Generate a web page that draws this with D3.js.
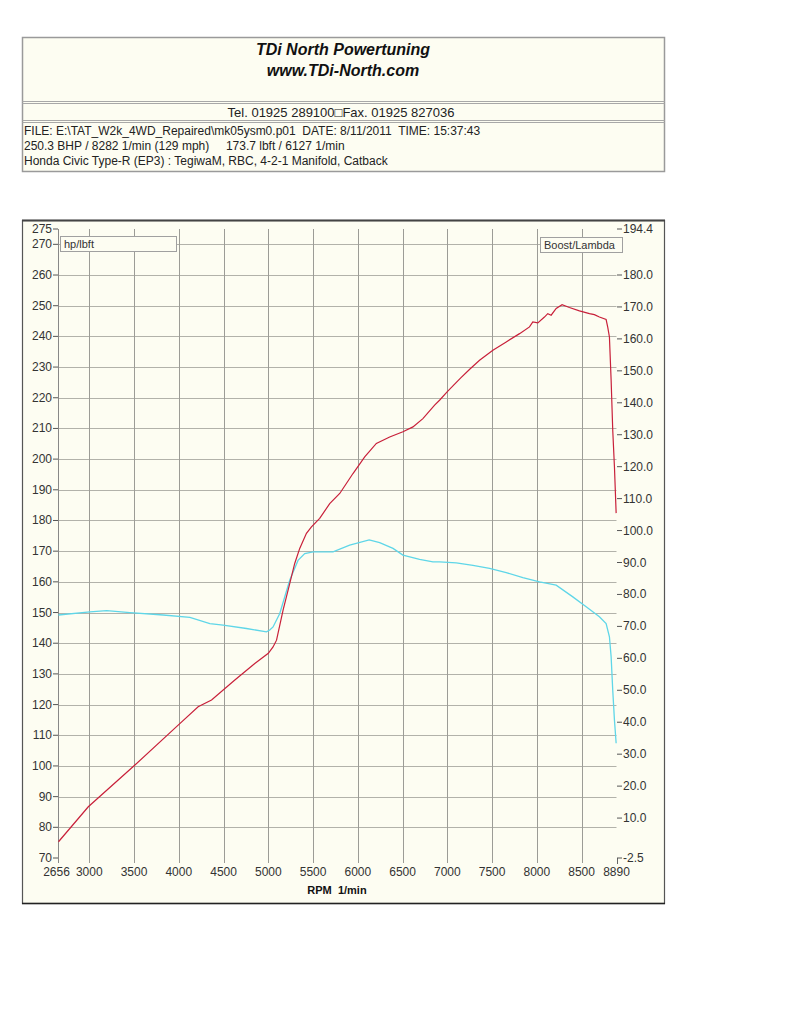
<!DOCTYPE html>
<html><head><meta charset="utf-8">
<script src="https://cdn.jsdelivr.net/npm/d3@7"></script>
<style>
html,body{margin:0;padding:0;background:#fff;}
svg{display:block;}
text{font-family:"Liberation Sans",Arial,sans-serif;}
</style></head>
<body>
<script>
// ---------- data ----------
const xTicks = [2656, 3000, 3500, 4000, 4500, 5000, 5500, 6000, 6500, 7000, 7500, 8000, 8500, 8890];
const leftTicks = [275, 270, 260, 250, 240, 230, 220, 210, 200, 190, 180, 170, 160, 150, 140, 130, 120, 110, 100, 90, 80, 70];
const leftGrid = [270, 260, 250, 240, 230, 220, 210, 200, 190, 180, 170, 160, 150, 140, 130, 120, 110, 100, 90, 80];
const rightTicks = [194.4, 180, 170, 160, 150, 140, 130, 120, 110, 100, 90, 80, 70, 60, 50, 40, 30, 20, 10, -2.5];
const rightLabels = ["194.4", "180.0", "170.0", "160.0", "150.0", "140.0", "130.0", "120.0", "110.0", "100.0", "90.0", "80.0", "70.0", "60.0", "50.0", "40.0", "30.0", "20.0", "10.0", "-2.5"];

const powerRpm = [2656, 2989, 3510, 3993, 4216, 4366, 4626, 4849, 5000, 5053, 5092, 5165, 5240, 5295, 5351, 5426, 5482, 5574, 5686, 5798, 5946, 6077, 6207, 6356, 6504, 6616, 6727, 6858, 6913, 7000, 7150, 7250, 7360, 7509, 7658, 7807, 7918, 7955, 8011, 8085, 8122, 8160, 8216, 8282, 8364, 8476, 8588, 8643, 8699, 8774, 8792, 8811, 8830, 8848, 8867, 8886];
const powerHp  = [75.3, 86.7, 100.3, 113.3, 119.3, 121.5, 128.0, 133.4, 136.7, 138.8, 141.0, 150.8, 159.5, 166.0, 170.9, 175.8, 177.9, 180.7, 185.5, 188.8, 195.3, 200.7, 205.1, 207.2, 208.9, 210.5, 213.2, 217.6, 219.2, 222.0, 226.5, 229.3, 232.2, 235.5, 238.2, 240.9, 243.1, 244.7, 244.4, 246.3, 247.4, 246.9, 249.1, 250.3, 249.4, 248.3, 247.4, 247.1, 246.3, 245.5, 243.0, 239.8, 225.7, 209.4, 197.5, 182.4];

const torqueRpm  = [2656, 3007, 3194, 3454, 3826, 4124, 4347, 4495, 4756, 4979, 5016, 5053, 5128, 5240, 5332, 5407, 5500, 5723, 5909, 6127, 6244, 6393, 6504, 6690, 6839, 6913, 7100, 7286, 7472, 7658, 7844, 8030, 8216, 8402, 8551, 8699, 8774, 8811, 8830, 8848, 8867, 8886];
const torqueLbft = [149.2, 150.2, 150.6, 150.0, 149.2, 148.4, 146.4, 145.9, 144.8, 143.7, 144.3, 145.3, 149.7, 160.6, 167.0, 169.2, 169.8, 169.8, 172.0, 173.7, 172.8, 170.9, 168.7, 167.3, 166.5, 166.5, 166.2, 165.4, 164.4, 163.0, 161.4, 160.0, 158.9, 155.1, 151.9, 148.6, 146.4, 142.1, 135.6, 124.7, 115.0, 107.4];

const headerTitle = ["TDi North Powertuning", "www.TDi-North.com"];
const telLine = "Tel. 01925 289100\u25A1Fax. 01925 827036";
const infoLines = [
  "FILE: E:\\TAT_W2k_4WD_Repaired\\mk05ysm0.p01  DATE: 8/11/2011  TIME: 15:37:43",
  "250.3 BHP / 8282 1/min (129 mph)     173.7 lbft / 6127 1/min",
  "Honda Civic Type-R (EP3) : TegiwaM, RBC, 4-2-1 Manifold, Catback"
];

// ---------- drawing ----------
const W = 791, H = 1024;
const svg = d3.select("body").append("svg").attr("width", W).attr("height", H);
svg.append("rect").attr("width", W).attr("height", H).attr("fill", "#ffffff");

const cream = "#fdfdf2";
// header box
const hb = svg.append("g");
hb.append("rect").attr("x", 22.5).attr("y", 37.5).attr("width", 642).attr("height", 134)
  .attr("fill", cream).attr("stroke", "#9a9a9a").attr("stroke-width", 1.5);
[101.5, 103.5, 120.5, 122.5].forEach(y => {
  hb.append("line").attr("x1", 22.5).attr("x2", 664.5).attr("y1", y).attr("y2", y)
    .attr("stroke", "#a8a8a8").attr("stroke-width", 1);
});
hb.selectAll("text.title").data(headerTitle).join("text")
  .attr("x", 343).attr("y", (d, i) => 55 + i * 21)
  .attr("text-anchor", "middle").attr("font-size", 16).attr("font-weight", "bold")
  .attr("font-style", "italic").attr("fill", "#111").text(d => d);
hb.append("text").attr("x", 341).attr("y", 117).attr("text-anchor", "middle")
  .attr("font-size", 13).attr("fill", "#222").text(telLine);
hb.selectAll("text.info").data(infoLines).join("text")
  .attr("x", 24).attr("y", (d, i) => 135 + i * 15)
  .attr("font-size", 12).attr("fill", "#222").style("white-space", "pre").text(d => d);

// chart frame
svg.append("rect").attr("x", 22.5).attr("y", 220.5).attr("width", 642).attr("height", 683)
  .attr("fill", cream).attr("stroke", "#555").attr("stroke-width", 1.2);
svg.append("line").attr("x1", 22).attr("x2", 665).attr("y1", 220.5).attr("y2", 220.5)
  .attr("stroke", "#444").attr("stroke-width", 2);
svg.append("line").attr("x1", 22).attr("x2", 665).attr("y1", 903.5).attr("y2", 903.5)
  .attr("stroke", "#222").attr("stroke-width", 1.5);

const x = d3.scaleLinear().domain([2656, 8890]).range([58.5, 616.5]);
const yL = d3.scaleLinear().domain([70, 275]).range([858, 229]);
const yR = d3.scaleLinear().domain([-2.5, 194.4]).range([858, 229]);

const grid = svg.append("g");
// horizontal gridlines
grid.selectAll("line.h").data(leftGrid).join("line")
  .attr("x1", x(2656)).attr("x2", x(8890))
  .attr("y1", d => Math.round(yL(d)) + 0.5).attr("y2", d => Math.round(yL(d)) + 0.5)
  .attr("stroke", "#b2b2aa").attr("stroke-width", 1);
// vertical gridlines
grid.selectAll("line.v").data(xTicks.slice(1, -1)).join("line")
  .attr("x1", d => Math.round(x(d)) + 0.5).attr("x2", d => Math.round(x(d)) + 0.5)
  .attr("y1", 229).attr("y2", 863)
  .attr("stroke", "#9c9c96").attr("stroke-width", 1);
// left axis line
grid.append("line").attr("x1", 58.5).attr("x2", 58.5).attr("y1", 229).attr("y2", 863)
  .attr("stroke", "#888").attr("stroke-width", 1);
// end ticks
grid.append("line").attr("x1", Math.round(x(8890)) + 0.5).attr("x2", Math.round(x(8890)) + 0.5)
  .attr("y1", 858).attr("y2", 864).attr("stroke", "#666");

// left axis
const la = svg.append("g").attr("font-size", 12).attr("fill", "#333");
leftTicks.forEach(v => {
  la.append("line").attr("x1", 53).attr("x2", 58).attr("y1", yL(v)).attr("y2", yL(v)).attr("stroke", "#555");
  la.append("text").attr("x", 52).attr("y", yL(v) + 4).attr("text-anchor", "end").text(v);
});
// right axis
const ra = svg.append("g").attr("font-size", 12).attr("fill", "#333");
rightTicks.forEach((v, i) => {
  ra.append("line").attr("x1", 617).attr("x2", 622).attr("y1", yR(v)).attr("y2", yR(v)).attr("stroke", "#555");
  ra.append("text").attr("x", 623).attr("y", yR(v) + 4).text(rightLabels[i]);
});
// x axis labels
const xa = svg.append("g").attr("font-size", 12).attr("fill", "#333");
xTicks.forEach(v => {
  xa.append("text").attr("x", x(v) + (v === 2656 ? -2 : 0)).attr("y", 876).attr("text-anchor", "middle").text(v);
});
svg.append("text").attr("x", 337).attr("y", 894).attr("text-anchor", "middle")
  .attr("font-size", 11).attr("font-weight", "bold").attr("fill", "#111")
  .style("white-space", "pre").text("RPM  1/min");

// legend boxes
function legBox(x0, y0, w, label) {
  svg.append("rect").attr("x", x0 + 0.5).attr("y", y0 + 0.5).attr("width", w).attr("height", 15)
    .attr("fill", cream).attr("stroke", "#a0a0a0");
  svg.append("text").attr("x", x0 + 4).attr("y", y0 + 12).attr("font-size", 11).attr("fill", "#333").text(label);
}
legBox(60, 236, 116, "hp/lbft");
legBox(540, 237, 82, "Boost/Lambda");

// curves
const powerData = powerRpm.map((r, i) => [r, powerHp[i]]);
const torqueData = torqueRpm.map((r, i) => [r, torqueLbft[i]]);
const line = d3.line().x(d => x(d[0])).y(d => yL(d[1]));
svg.append("path").datum(torqueData).attr("d", line)
  .attr("fill", "none").attr("stroke", "#5fd6e8").attr("stroke-width", 1.3);
svg.append("path").datum(powerData).attr("d", line)
  .attr("fill", "none").attr("stroke", "#c8203a").attr("stroke-width", 1.2);
</script>
</body></html>
